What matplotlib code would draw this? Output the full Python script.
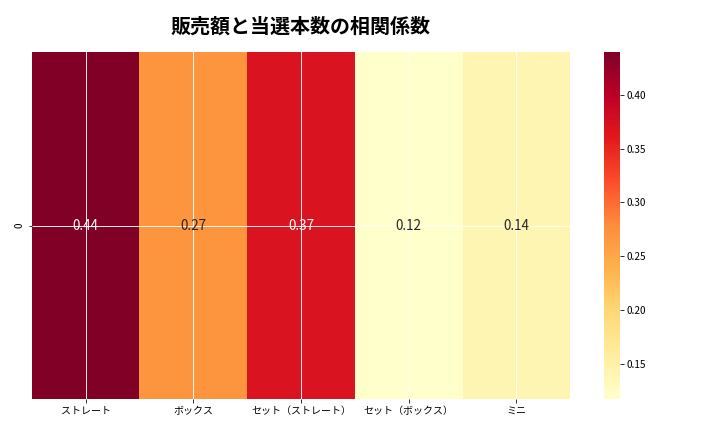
import numpy as np
import pandas as pd
import matplotlib

matplotlib.use("Agg")
import matplotlib.pyplot as plt
import seaborn as sns

plt.rcParams["font.family"] = ["Noto Sans CJK JP", "DejaVu Sans"]

CATEGORIES = ["ストレート", "ボックス", "セット（ストレート）", "セット（ボックス）", "ミニ"]
CORR_VALUES = [0.44, 0.27, 0.37, 0.117, 0.14]
TITLE = "販売額と当選本数の相関係数"

df = pd.DataFrame([CORR_VALUES], columns=CATEGORIES)

fig = plt.figure(figsize=(10, 6), dpi=72)
ax = fig.add_axes([0.044, 0.076, 0.748, 0.804])
cax = fig.add_axes([0.839, 0.076, 0.022, 0.804])

sns.heatmap(df, annot=True, fmt=".2f", cmap="YlOrRd", ax=ax, cbar_ax=cax,
            annot_kws={"fontsize": 13.5})
ax.grid(True, color="white", linewidth=0.9)
ax.set_axisbelow(False)
ax.set_title(TITLE, fontsize=20, fontweight="bold", pad=19)
ax.tick_params(axis="x", labelsize=10, rotation=0)
ax.tick_params(axis="y", labelsize=10)
cax.tick_params(labelsize=10)
for sp in cax.spines.values():
    sp.set_visible(False)

plt.savefig("out.png", dpi=72)
